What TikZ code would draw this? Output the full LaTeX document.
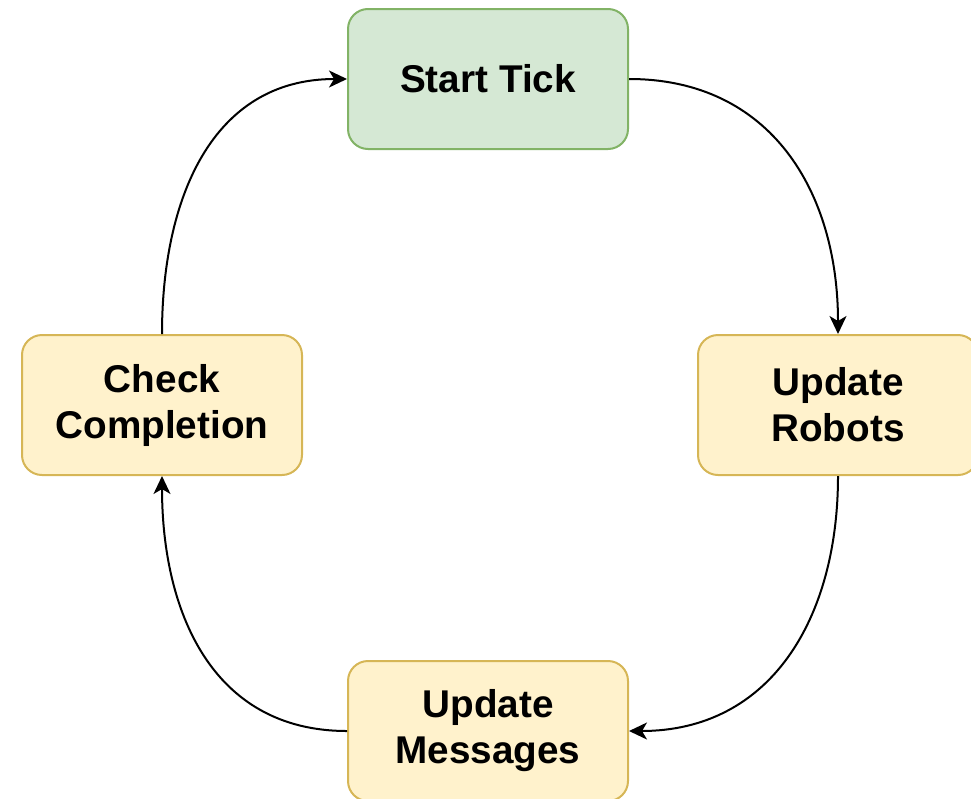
\documentclass[tikz,border=0pt]{standalone}
\usepackage{fontspec}
\setmainfont{Liberation Sans}
\usetikzlibrary{arrows.meta}
\definecolor{tickfill}{HTML}{D5E8D4}
\definecolor{tickdraw}{HTML}{82B366}
\definecolor{stepfill}{HTML}{FFF2CC}
\definecolor{stepdraw}{HTML}{D6B656}
\begin{document}
\begin{tikzpicture}[
		box/.style={rectangle, rounded corners=20pt, line width=2pt, minimum width=280pt, minimum height=140pt, align=center, inner sep=0pt, font=\fontsize{38.7pt}{46pt}\selectfont\bfseries},
		startbox/.style={box, fill=tickfill, draw=tickdraw},
		stepbox/.style={box, fill=stepfill, draw=stepdraw},
		flow/.style={line width=2pt, -{Stealth[length=18pt, width=17pt, inset=5pt]}}
	]
			\useasboundingbox (0,0) rectangle (971pt,-798pt);
			\node[startbox] (start) at (488pt,-79pt) {Start Tick};
			\node[stepbox] (robots) at (838pt,-405pt) {Update\\Robots};
			\node[stepbox] (messages) at (488pt,-731pt) {Update\\Messages};
			\node[stepbox] (check) at (162pt,-405pt) {Check\\Completion};
			\draw[flow] (start.east) to [out=0, in=90, looseness=1.1] (robots.north);
			\draw[flow] (robots.south) to [out=-90, in=0, looseness=1.1] (messages.east);
			\draw[flow] (messages.west) to [out=180, in=-90, looseness=1.1] (check.south);
			\draw[flow] (check.north) to [out=90, in=180, looseness=1.1] (start.west);
		\end{tikzpicture}
\end{document}
